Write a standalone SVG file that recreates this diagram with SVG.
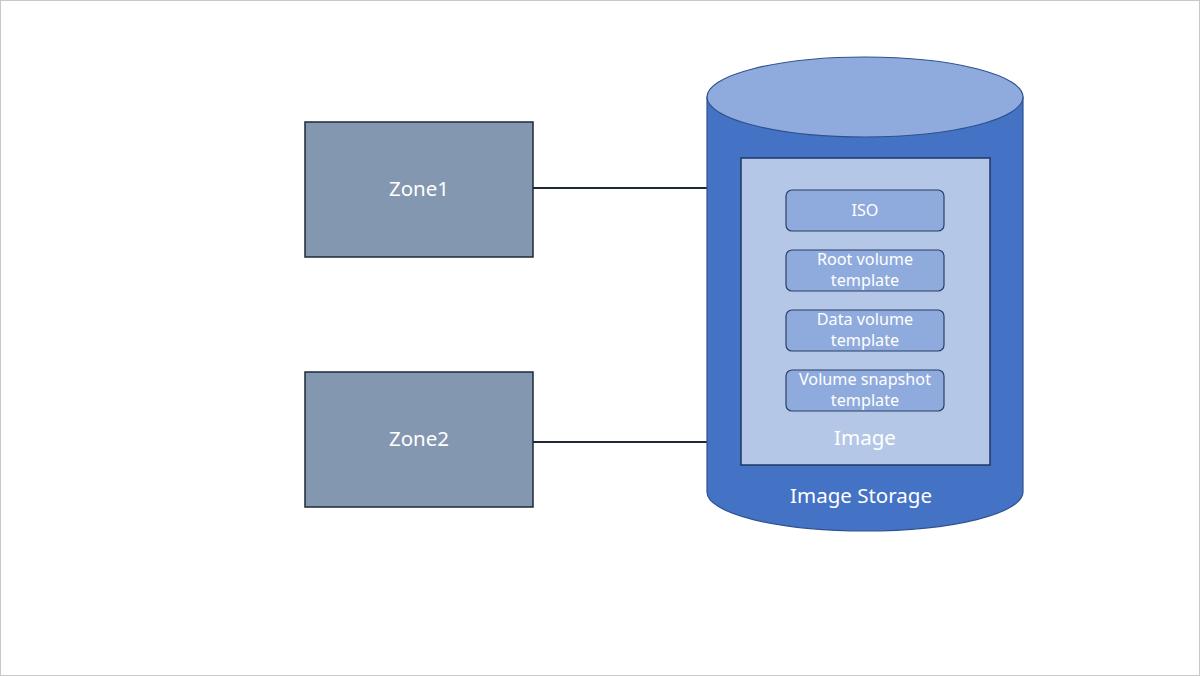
<svg xmlns="http://www.w3.org/2000/svg" width="1200" height="676" viewBox="0 0 1200 676">
<style>
text{font-family:"Noto Sans","Noto Sans CJK SC",sans-serif;fill:#fff;text-anchor:middle}
.zone{fill:#8497B0;stroke:#1E2838;stroke-width:1.5}
.item{fill:#8FAADC;stroke:#2B3F66;stroke-width:1.2}
.big{font-size:20.5px}
.small{font-size:16.2px}
</style>
<rect x="0.5" y="0.5" width="1199" height="675" fill="#fff" stroke="#C8C8C8"/>
<g id="connectors" stroke="#1E2838" stroke-width="2">
<line x1="533" y1="188" x2="707" y2="188"/>
<line x1="533" y1="442" x2="707" y2="442"/>
</g>
<g id="zone1">
<rect class="zone" x="305" y="122" width="228" height="135"/>
<text class="big" x="419" y="196">Zone1</text>
</g>
<g id="zone2">
<rect class="zone" x="305" y="372" width="228" height="135"/>
<text class="big" x="419" y="446">Zone2</text>
</g>
<g id="image-storage">
<path d="M707,97 L707,492 A158,39 0 0 0 1023,492 L1023,97 Z" fill="#4472C4" stroke="#2F528F" stroke-width="1.2"/>
<ellipse cx="865" cy="97" rx="158" ry="40" fill="#8FAADC" stroke="#2F528F" stroke-width="1.2"/>
<text class="big" x="861" y="503">Image Storage</text>
</g>
<g id="image">
<rect x="741" y="158" width="249" height="307" fill="#B4C7E7" stroke="#1F3864" stroke-width="1.5"/>
<text class="big" x="865" y="445">Image</text>
</g>
<g id="iso">
<rect class="item" x="786" y="190" width="158" height="41" rx="6"/>
<text class="small" x="865" y="216">ISO</text>
</g>
<g id="root-volume-template">
<rect class="item" x="786" y="250" width="158" height="41" rx="6"/>
<text class="small" x="865" y="265">Root volume</text>
<text class="small" x="865" y="286">template</text>
</g>
<g id="data-volume-template">
<rect class="item" x="786" y="310" width="158" height="41" rx="6"/>
<text class="small" x="865" y="325">Data volume</text>
<text class="small" x="865" y="346">template</text>
</g>
<g id="volume-snapshot-template">
<rect class="item" x="786" y="370" width="158" height="41" rx="6"/>
<text class="small" x="865" y="385">Volume snapshot</text>
<text class="small" x="865" y="406">template</text>
</g>
</svg>
